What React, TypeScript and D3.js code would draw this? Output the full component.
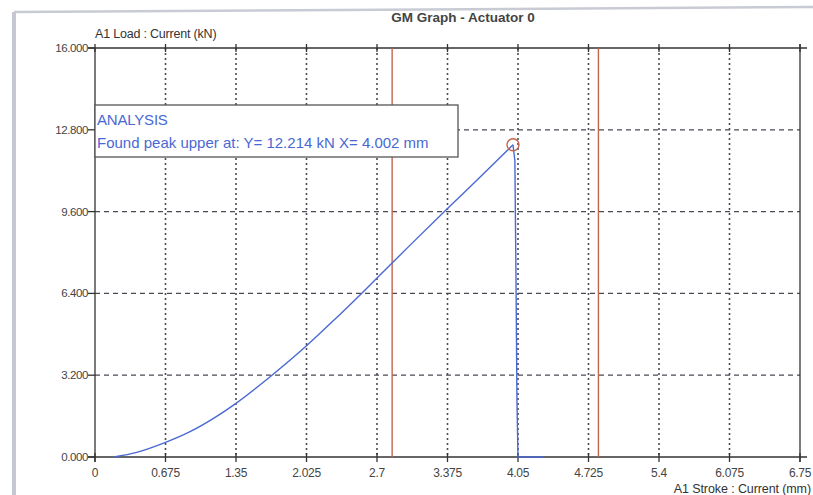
import React from 'react';
import * as d3 from 'd3';

// stroke (mm) vs load (kN)
const strokeMm = [0.18, 0.4, 0.675, 0.9, 1.15, 1.35, 1.68, 2.025, 2.3, 2.54, 2.7, 3.0, 3.37, 3.7, 4.002, 4.02, 4.03, 4.04, 4.05, 4.3];
const loadKn = [0, 0.18, 0.57, 0.97, 1.55, 2.1, 3.15, 4.35, 5.4, 6.35, 7.0, 8.22, 9.7, 11.0, 12.214, 11.6, 7.4, 2.2, 0, 0];
const peakIndex = 14;

const xTicks = [0, 0.675, 1.35, 2.025, 2.7, 3.375, 4.05, 4.725, 5.4, 6.075, 6.75];
const xTickLabels = ['0', '0.675', '1.35', '2.025', '2.7', '3.375', '4.05', '4.725', '5.4', '6.075', '6.75'];
const yTicks = [0, 3.2, 6.4, 9.6, 12.8, 16];
const yTickLabels = ['0.000', '3.200', '6.400', '9.600', '12.800', '16.000'];
const limitLines = [2.845, 4.82];
const peak = { x: 4.002, y: 12.214 };

const title = 'GM Graph - Actuator 0';
const yTitle = 'A1 Load : Current (kN)';
const xTitle = 'A1 Stroke : Current (mm)';
const noteLines = ['ANALYSIS', 'Found peak upper at: Y= 12.214 kN X= 4.002 mm'];

const W = 813;
const H = 495;
const font = '"Liberation Sans", Arial, sans-serif';

export default function App() {
  const x = d3.scaleLinear().domain([0, 6.75]).range([95, 800]);
  const y = d3.scaleLinear().domain([0, 16]).range([457, 48]);

  const pts: [number, number][] = strokeMm.map((s, i) => [s, loadKn[i]]);
  // loading part is smooth, the break after the peak is a straight drop
  const rise = d3
    .line<[number, number]>()
    .x((d) => x(d[0]))
    .y((d) => y(d[1]))
    .curve(d3.curveMonotoneX);
  const drop = d3
    .line<[number, number]>()
    .x((d) => x(d[0]))
    .y((d) => y(d[1]));

  const gridColor = '#4a4a55';
  const blue = '#4a68d4';
  const red = '#c4654e';

  return (
    <svg width={W} height={H} style={{ position: 'absolute', left: 0, top: 0, background: '#fff' }}>
      {/* outer panel frame */}
      <rect x={0} y={0} width={W} height={H} fill="#fff" />
      <line x1={14} x2={W} y1={12} y2={7} stroke="#c9cbd4" strokeWidth={2.5} />
      <line x1={14} x2={14} y1={12} y2={H} stroke="#c5c7d2" strokeWidth={4} />

      {/* grid */}
      {xTicks.slice(1, -1).map((t) => (
        <line key={'gx' + t} x1={x(t)} x2={x(t)} y1={y(16)} y2={y(0)} stroke={gridColor} strokeWidth={1.6} strokeDasharray="2,3" />
      ))}
      {yTicks.slice(1, -1).map((t) => (
        <line key={'gy' + t} x1={x(0)} x2={x(6.75)} y1={y(t)} y2={y(t)} stroke={gridColor} strokeWidth={1.3} strokeDasharray="5,4" />
      ))}

      {/* frame / axes */}
      <line x1={x(0) - 7} x2={807} y1={y(16)} y2={y(16)} stroke="#333" strokeWidth={1.3} />
      <line x1={x(0) - 7} x2={807} y1={y(0)} y2={y(0)} stroke="#333" strokeWidth={1.3} />
      <line x1={x(0)} x2={x(0)} y1={y(16)} y2={y(0) + 5} stroke="#333" strokeWidth={1.3} />
      <line x1={x(6.75)} x2={x(6.75)} y1={y(16) - 4} y2={y(0) + 5} stroke="#333" strokeWidth={1.3} />

      {/* ticks */}
      {xTicks.map((t, i) => (
        <g key={'tx' + t}>
          <line x1={x(t)} x2={x(t)} y1={y(16) - 4} y2={y(16) + 4} stroke="#333" strokeWidth={1.3} />
          <line x1={x(t)} x2={x(t)} y1={y(0) - 4} y2={y(0) + 5} stroke="#333" strokeWidth={1.3} />
          <text x={x(t)} y={y(0) + 20} textAnchor="middle" fontFamily={font} fontSize={12} fill="#444" letterSpacing={-0.3}>
            {xTickLabels[i]}
          </text>
        </g>
      ))}
      {yTicks.map((t, i) => (
        <g key={'ty' + t}>
          <line x1={x(0) - 7} x2={x(0)} y1={y(t)} y2={y(t)} stroke="#333" strokeWidth={1.3} />
          <text x={x(0) - 7} y={y(t) + 4} textAnchor="end" fontFamily={font} fontSize={11.5} fill="#444" letterSpacing={-0.4}>
            {yTickLabels[i]}
          </text>
        </g>
      ))}

      {/* limit lines */}
      {limitLines.map((v) => (
        <line key={'lim' + v} x1={x(v)} x2={x(v)} y1={y(16)} y2={y(0)} stroke={red} strokeWidth={1.4} />
      ))}

      {/* load curve */}
      <path d={rise(pts.slice(0, peakIndex + 1)) ?? ''} fill="none" stroke={blue} strokeWidth={1.4} />
      <path d={drop(pts.slice(peakIndex)) ?? ''} fill="none" stroke={blue} strokeWidth={1.4} />
      <circle cx={x(peak.x)} cy={y(peak.y)} r={6} fill="none" stroke={red} strokeWidth={1.4} />

      {/* analysis note */}
      <rect x={95} y={105} width={363} height={52} fill="#fff" stroke="#555" strokeWidth={1.3} />
      <text x={97} y={125} fontFamily={font} fontSize={15} fill={blue} letterSpacing={-0.2}>{noteLines[0]}</text>
      <text x={97} y={148} fontFamily={font} fontSize={15} fill={blue}>{noteLines[1]}</text>

      {/* titles */}
      <text x={463} y={22} textAnchor="middle" fontFamily={font} fontSize={13.5} fontWeight="bold" fill="#444">{title}</text>
      <text x={95} y={38} fontFamily={font} fontSize={12.5} fill="#333" letterSpacing={-0.2}>{yTitle}</text>
      <text x={811} y={493} textAnchor="end" fontFamily={font} fontSize={12.5} fill="#333" letterSpacing={-0.1}>{xTitle}</text>
    </svg>
  );
}
